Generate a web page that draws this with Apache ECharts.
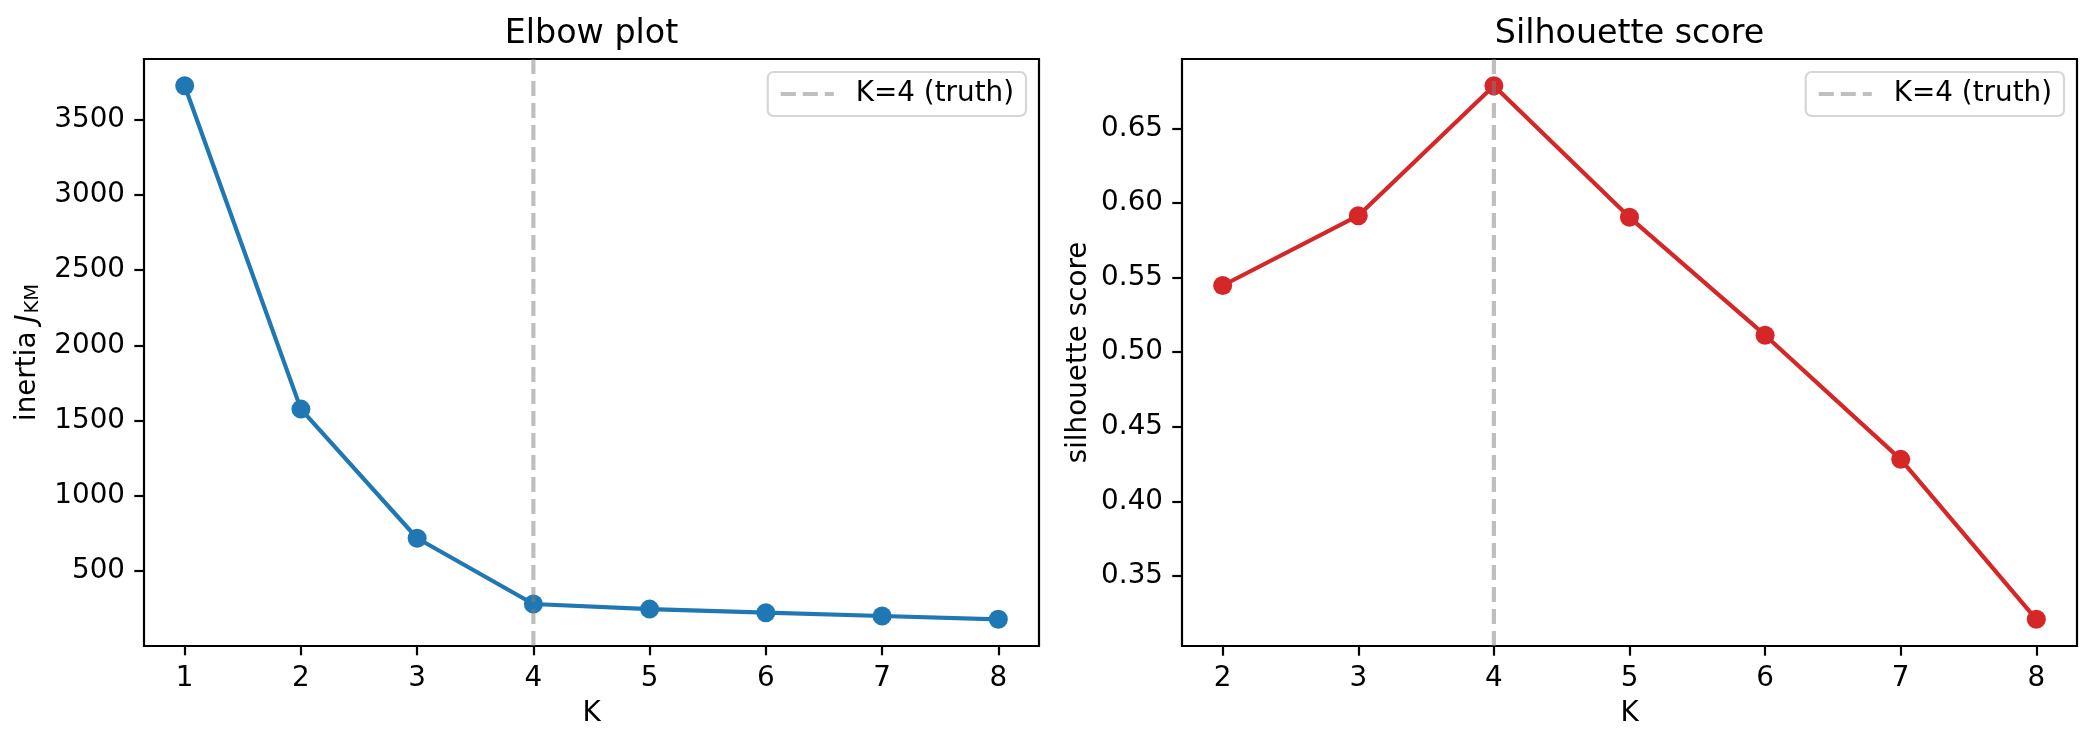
<!DOCTYPE html>
<html>
<head>
<meta charset="utf-8">
<script src="https://cdn.jsdelivr.net/npm/echarts@6/dist/echarts.min.js"></script>
<style>
html,body{margin:0;padding:0;background:#fff;}
#chart{width:2095px;height:748px;}
</style>
</head>
<body>
<div id="chart"></div>
<script>
// ---- data ----
const elbowK = [1, 2, 3, 4, 5, 6, 7, 8];
const inertia = [3729, 1575, 715, 277, 243, 219, 197, 175];
const silK = [2, 3, 4, 5, 6, 7, 8];
const silhouette = [0.5447, 0.5915, 0.6786, 0.5904, 0.5114, 0.4282, 0.3210];
const truthK = 4;
const inertiaTicks = [500, 1000, 1500, 2000, 2500, 3000, 3500];
const silTicks = [0.35, 0.40, 0.45, 0.50, 0.55, 0.60, 0.65];
const elbowKTicks = [1, 2, 3, 4, 5, 6, 7, 8];
const silKTicks = [2, 3, 4, 5, 6, 7, 8];
const titles = ['Elbow plot', 'Silhouette score'];
const truthLabel = 'K=4 (truth)';

// matplotlib-like 5% auto margins
function padRange(arr) {
  const mn = Math.min.apply(null, arr), mx = Math.max.apply(null, arr);
  const m = 0.05 * (mx - mn);
  return [mn - m, mx + m];
}
const exE = padRange(elbowK), eyR = padRange(inertia);
const exS = padRange(silK), syR = padRange(silhouette);

const FONT = 'DejaVu Sans';
const FS = 27.8;
const BLUE = '#1f77b4', RED = '#d62728';
const VCOL = 'rgba(128,128,128,0.5)';

function xAxisBase(grid, range, ticks) {
  return {
    type: 'value', gridIndex: grid, min: range[0], max: range[1],
    name: 'K', nameLocation: 'middle', nameGap: 54,
    nameTextStyle: {fontFamily: FONT, fontSize: FS, color: '#000'},
    axisLine: {show: false},
    splitLine: {show: false},
    axisTick: {show: true, inside: false, length: 9.7, customValues: ticks,
      lineStyle: {color: '#000', width: 2.2}},
    axisLabel: {show: true, margin: 19, customValues: ticks, fontFamily: FONT, fontSize: FS, color: '#000',
      formatter: v => String(Math.round(v))}
  };
}
function titleAxis(grid, range, text) {
  return {
    type: 'value', gridIndex: grid, min: range[0], max: range[1], position: 'top',
    name: text, nameLocation: 'middle', nameGap: 8,
    nameTextStyle: {fontFamily: FONT, fontSize: 33.3, color: '#000'},
    axisLine: {show: false}, axisTick: {show: false}, axisLabel: {show: false}, splitLine: {show: false}
  };
}
function yAxisBase(grid, range, ticks, name, gap, rich, fmt) {
  return {
    type: 'value', gridIndex: grid, min: range[0], max: range[1],
    name: name, nameLocation: 'middle', nameRotate: 90, nameGap: gap,
    nameTextStyle: {fontFamily: FONT, fontSize: FS, color: '#000', rich: rich},
    axisLine: {show: false},
    splitLine: {show: false},
    axisTick: {show: true, inside: false, length: 9.7, customValues: ticks,
      lineStyle: {color: '#000', width: 2.2}},
    axisLabel: {show: true, margin: 19, customValues: ticks, fontFamily: FONT, fontSize: FS, color: '#000',
      formatter: fmt}
  };
}
function legendFor(right) {
  return {
    data: [truthLabel], right: right, top: 72, orient: 'vertical',
    padding: [8, 12, 8, 11],
    itemWidth: 53, itemHeight: 14,
    itemStyle: {opacity: 0, color: 'rgba(0,0,0,0)', borderWidth: 0},
    lineStyle: {color: VCOL, width: 4.2, type: [15, 7]},
    backgroundColor: 'rgba(255,255,255,0.8)',
    borderColor: '#d6d6d6', borderWidth: 2.2, borderRadius: 6,
    formatter: '{sp|}{t|{name}}',
    textStyle: {fontFamily: FONT, fontSize: FS, color: '#000',
      rich: {sp: {width: 17}, t: {fontFamily: FONT, fontSize: FS, color: '#000'}}},
    selectedMode: false
  };
}

const chart = echarts.init(document.getElementById('chart'), null, {renderer: 'canvas'});
chart.setOption({
  backgroundColor: '#fff',
  animation: false,
  grid: [
    {left: 144, top: 59, width: 895, height: 587, show: true, borderColor: '#000', borderWidth: 2.2, backgroundColor: 'transparent'},
    {left: 1182, top: 59, width: 895, height: 587, show: true, borderColor: '#000', borderWidth: 2.2, backgroundColor: 'transparent'}
  ],
  legend: [legendFor(2095 - 1026), legendFor(2095 - 2064)],
  xAxis: [
    xAxisBase(0, exE, elbowKTicks),
    xAxisBase(1, exS, silKTicks),
    titleAxis(0, exE, titles[0]),
    titleAxis(1, exS, titles[1])
  ],
  yAxis: [
    yAxisBase(0, eyR, inertiaTicks, '{a|inertia }{j|J}{s|KM}', 98, {
      a: {fontFamily: FONT, fontSize: FS, color: '#000', lineHeight: 36},
      j: {fontFamily: FONT, fontSize: FS, fontStyle: 'italic', color: '#000', lineHeight: 36},
      s: {fontFamily: FONT, fontSize: 19.5, color: '#000', lineHeight: 26, padding: [10, 0, 0, 1]}
    }, v => String(Math.round(v))),
    yAxisBase(1, syR, silTicks, 'silhouette score', 89, null, v => v.toFixed(2))
  ],
  series: [
    {type: 'line', name: 'inertia', xAxisIndex: 0, yAxisIndex: 0,
      data: elbowK.map((k, i) => [k, inertia[i]]),
      symbol: 'circle', symbolSize: 19, lineStyle: {color: BLUE, width: 4.2}, itemStyle: {color: BLUE}, z: 3},
    {type: 'line', name: truthLabel, xAxisIndex: 0, yAxisIndex: 0,
      data: [[truthK, eyR[0]], [truthK, eyR[1]]],
      symbol: 'none', lineStyle: {color: VCOL, width: 4.2, type: [15, 7]}, itemStyle: {color: VCOL}, z: 4},
    {type: 'line', name: 'silhouette', xAxisIndex: 1, yAxisIndex: 1,
      data: silK.map((k, i) => [k, silhouette[i]]),
      symbol: 'circle', symbolSize: 19, lineStyle: {color: RED, width: 4.2}, itemStyle: {color: RED}, z: 3},
    {type: 'line', name: truthLabel, xAxisIndex: 1, yAxisIndex: 1,
      data: [[truthK, syR[0]], [truthK, syR[1]]],
      symbol: 'none', lineStyle: {color: VCOL, width: 4.2, type: [15, 7]}, itemStyle: {color: VCOL}, z: 4}
  ]
});
</script>
</body>
</html>
